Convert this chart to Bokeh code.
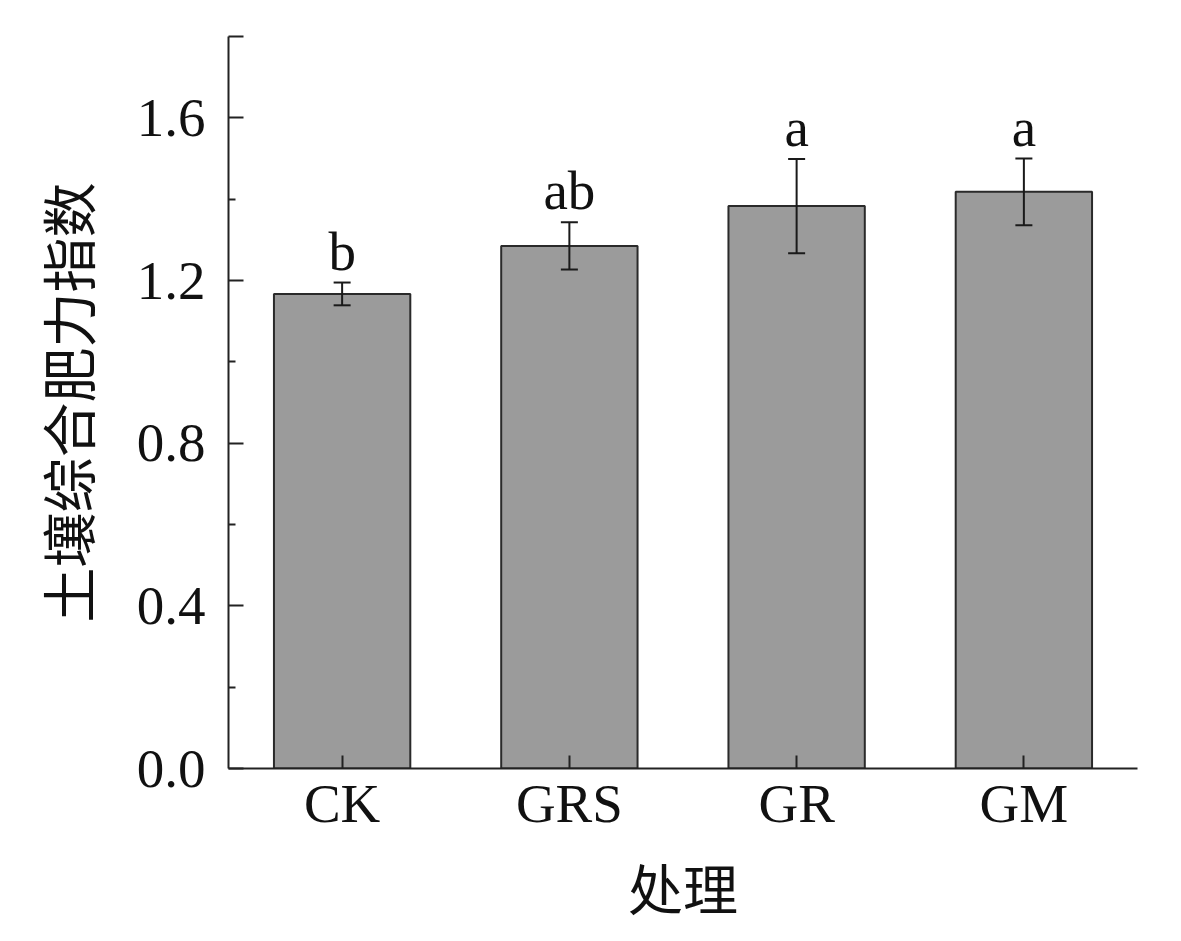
from bokeh.plotting import figure
from bokeh.models import ColumnDataSource, FixedTicker, Whisker, TeeHead, Range1d, FactorRange
from bokeh.core.properties import value
from bokeh.embed import file_html
from bokeh.resources import INLINE

categories = ["CK", "GRS", "GR", "GM"]
means = [1.167, 1.285, 1.383, 1.418]
errors = [0.028, 0.058, 0.116, 0.082]
letters = ["b", "ab", "a", "a"]

y_ticks = [0.0, 0.4, 0.8, 1.2, 1.6, 1.8]
y_minor = [0.2, 0.6, 1.0, 1.4]
y_labels = {0.0: "0.0", 0.4: "0.4", 0.8: "0.8", 1.2: "1.2", 1.6: "1.6", 1.8: ""}

upper = [m + e for m, e in zip(means, errors)]
lower = [m - e for m, e in zip(means, errors)]
src = ColumnDataSource(dict(x=categories, top=means, upper=upper, lower=lower, lab=letters))

SERIF = "Liberation Serif"
CJK = "Noto Sans CJK SC"

p = figure(width=1173, height=928, x_range=FactorRange(*categories, range_padding=0),
           y_range=Range1d(0, 1.8), output_backend="svg", toolbar_location=None,
           min_border_left=228, min_border_right=36, min_border_top=36, min_border_bottom=150)
p.x_range.factor_padding = 0
p.outline_line_color = None
p.grid.visible = False

p.vbar(x="x", top="top", width=0.6, source=src, fill_color="#9b9b9b",
       line_color="#2a2a2a", line_width=2)

w = Whisker(base="x", upper="upper", lower="lower", source=src, level="overlay",
            line_color="#1a1a1a", line_width=2,
            upper_head=TeeHead(size=17, line_color="#1a1a1a", line_width=2),
            lower_head=TeeHead(size=17, line_color="#1a1a1a", line_width=2))
p.add_layout(w)

p.text(x="x", y="upper", text="lab", source=src, text_align="center", text_baseline="bottom",
       y_offset=-1, text_font=value(SERIF), text_font_size="55px", text_color="#111111")

for ax in (p.xaxis[0], p.yaxis[0]):
    ax.axis_line_color = "#222222"
    ax.axis_line_width = 2
    ax.major_tick_line_color = "#222222"
    ax.major_tick_line_width = 2
    ax.minor_tick_line_color = "#222222"
    ax.minor_tick_line_width = 2
    ax.major_tick_out = 0
    ax.minor_tick_out = 0
    ax.major_label_text_font = SERIF
    ax.major_label_text_font_size = "55px"
    ax.major_label_text_color = "#111111"
    ax.axis_label_text_font = CJK
    ax.axis_label_text_font_size = "55px"
    ax.axis_label_text_font_style = "normal"
    ax.axis_label_text_color = "#111111"

p.yaxis.ticker = FixedTicker(ticks=y_ticks, minor_ticks=y_minor)
p.yaxis.major_label_overrides = y_labels
p.yaxis.major_tick_in = 15
p.yaxis.minor_tick_in = 7
p.yaxis.major_label_standoff = 23
p.yaxis.axis_label = "土壤综合肥力指数"
p.yaxis.axis_label_standoff = 28

p.xaxis.major_tick_in = 13
p.xaxis.minor_tick_in = 0
p.xaxis.major_label_standoff = 4
p.xaxis.axis_label = "处理"
p.xaxis.axis_label_standoff = 9

open("out.html", "w").write(file_html(p, INLINE))
